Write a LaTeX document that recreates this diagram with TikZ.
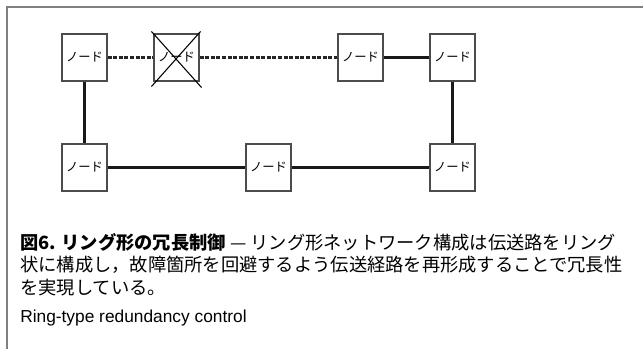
\documentclass[tikz,border=0pt]{standalone}
\usepackage{fontspec}
\usetikzlibrary{calc}
\newfontfamily\jp{Noto Sans CJK JP}
\newfontfamily\lat{Liberation Sans}
\begin{document}
\begin{tikzpicture}[x=0.75pt,y=-0.75pt,
  nodebox/.style={draw=black!70,line width=0.8pt,fill=white,minimum width=33.75pt,minimum height=35.25pt,inner sep=0pt,font=\jp\fontsize{9.2pt}{11pt}\selectfont},
  link/.style={line width=2.2pt,black!90},
  thinlink/.style={line width=1.9pt,black!90},
  broken/.style={line width=2.2pt,black!85,dash pattern=on 3pt off 1.2pt},
  caption/.style={anchor=base west,inner sep=0pt,font=\jp\fontsize{13.7pt}{16pt}\selectfont}]
\useasboundingbox (0,0) rectangle (643,349);
% frame
\draw[black!50,line width=1.1pt] (7,349) -- (7,7) -- (643,7);
% nodes
\node[nodebox] (n1) at (84.5,57.5) {ノード};
\node[nodebox] (n2) at (176.5,57.5) {ノード};
\node[nodebox] (n3) at (360.5,57.5) {ノード};
\node[nodebox] (n4) at (452.5,57.5) {ノード};
\node[nodebox] (n5) at (84.5,167.5) {ノード};
\node[nodebox] (n6) at (268.5,167.5) {ノード};
\node[nodebox] (n7) at (452.5,167.5) {ノード};
% cross on failed node
\draw[black,line width=0.8pt] ($(n2.north west)+(-2,-2)$) -- ($(n2.south east)+(2,6)$);
\draw[black,line width=0.8pt] ($(n2.north east)+(1,-2)$) -- ($(n2.south west)+(-2,5)$);
% connectors
\draw[broken] (n1.east) -- (n2.west);
\draw[broken] (n2.east) -- (n3.west);
\draw[link] (n3.east) -- (n4.west);
\draw[link] (n1.south) -- (n5.north);
\draw[link] (n4.south) -- (n7.north);
\draw[thinlink] (n5.east) -- (n6.west);
\draw[thinlink] (n6.east) -- (n7.west);
% caption
\node[caption] (c1) at (20,250) {\textbf{図6. リング形の冗長制御} — リング形ネットワーク構成は伝送路をリング};
\node[caption] (c2) at (20,272) {状に構成し，故障箇所を回避するよう伝送経路を再形成することで冗長性};
\node[caption] (c3) at (20,294) {を実現している。};
\node[anchor=base west,inner sep=0pt,font=\lat\fontsize{13pt}{15pt}\selectfont] (c4) at (20,322) {Ring-type redundancy control};
\end{tikzpicture}
\end{document}
